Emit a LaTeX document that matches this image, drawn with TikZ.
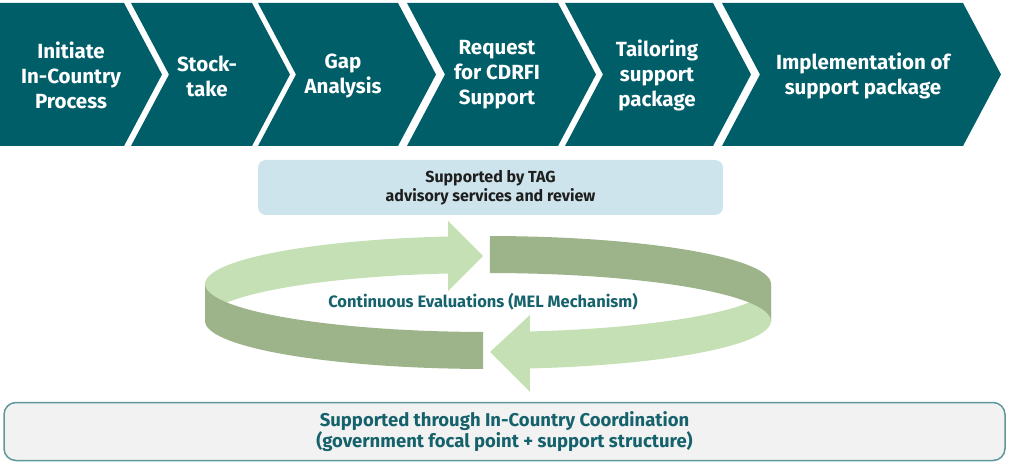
\documentclass[tikz,border=0pt]{standalone}
\usepackage{fontspec}
\setmainfont{Fira Sans}
\usepackage{xcolor}
\definecolor{chevteal}{RGB}{0,94,105}
\definecolor{tagblue}{RGB}{206,228,237}
\definecolor{tagtext}{RGB}{30,30,30}
\definecolor{ringlight}{RGB}{197,224,180}
\definecolor{ringdark}{RGB}{157,180,138}
\definecolor{evaltext}{RGB}{22,98,108}
\definecolor{coordline}{RGB}{94,152,152}
\definecolor{coordfill}{RGB}{242,242,242}
\tikzset{
  steplabel/.style={text=white,font=\bfseries\fontsize{20.5}{25}\selectfont,align=center,inner sep=0pt},
  tagbox/.style={fill=tagblue,rounded corners=8pt,minimum width=465pt,minimum height=55pt,
    text=tagtext,font=\bfseries\fontsize{16}{19}\selectfont,align=center,inner sep=0pt},
  evallabel/.style={text=evaltext,font=\bfseries\fontsize{16.5}{18}\selectfont,inner sep=0pt},
  coordbox/.style={draw=coordline,line width=1.5pt,fill=coordfill,rounded corners=12pt,
    minimum width=1001pt,minimum height=58pt,text=evaltext,
    font=\bfseries\fontsize{18.5}{21}\selectfont,align=center,inner sep=0pt}
}
\begin{document}
\begin{tikzpicture}[x=1pt,y=-1pt]
  \useasboundingbox (0,0) rectangle (1009,462);
  % process steps
  \fill[chevteal] (0,3)--(124,3)--(162,74.5)--(124,146)--(0,146)--cycle;
  \foreach \l/\r in {131/252,258/398,407/558,565/713,722/963}
    \fill[chevteal] (\l,3)--(\r,3)--({\r+38},74.5)--(\r,146)--(\l,146)--({\l+38},74.5)--cycle;
  \node[steplabel] (initiate) at (71,75) {Initiate\\In-Country\\Process};
  \node[steplabel] (stocktake) at (207,76) {Stock-\\take};
  \node[steplabel] (gap) at (343,76) {Gap\\Analysis};
  \node[steplabel] (request) at (497,75) {Request\\for CDRFI\\Support};
  \node[steplabel] (tailoring) at (657,75) {Tailoring\\support\\package};
  \node[steplabel] (implement) at (863,76) {Implementation of\\support package};

  \node[tagbox] (tag) at (490.5,187.5) {Supported by TAG\\advisory services and review};

  % ring of arrows
  \fill[ringlight] plot[domain=98.1:180,samples=30] ({488+283*cos(\x)},{284-48*sin(\x)})
    -- plot[domain=180:98.1,samples=30] ({488+283*cos(\x)},{321-48*sin(\x)})
    -- (448,291) -- (483,256) -- (448,221) -- cycle;
  \fill[ringlight] plot[domain=278.5:360,samples=30] ({488+283*cos(\x)},{284-48*sin(\x)})
    -- plot[domain=360:278.5,samples=30] ({488+283*cos(\x)},{321-48*sin(\x)})
    -- (530,392) -- (490,352) -- (530,315) -- cycle;
  \fill[ringdark] plot[domain=89.6:0,samples=30] ({488+283*cos(\x)},{284-48*sin(\x)})
    -- plot[domain=0:89.6,samples=30] ({488+283*cos(\x)},{321-48*sin(\x)}) -- cycle;
  \fill[ringdark] plot[domain=180:269,samples=30] ({488+283*cos(\x)},{284-48*sin(\x)})
    -- plot[domain=269:180,samples=30] ({488+283*cos(\x)},{321-48*sin(\x)}) -- cycle;
  \node[evallabel] (eval) at (483,302) {Continuous Evaluations (MEL Mechanism)};

  \node[coordbox] (coord) at (504.5,431.5) {Supported through In-Country Coordination\\(government focal point + support structure)};
\end{tikzpicture}
\end{document}
